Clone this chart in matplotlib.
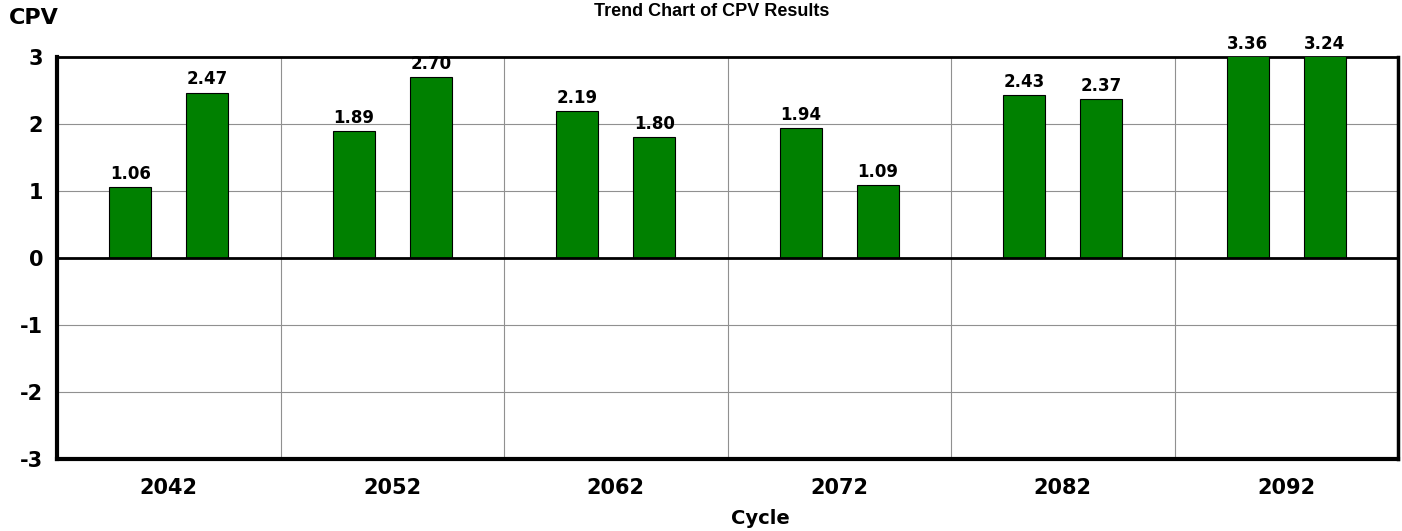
import numpy as np
import matplotlib.pyplot as plt

cycles = ['2042', '2052', '2062', '2072', '2082', '2092']
first_vals = [1.06, 1.89, 2.19, 1.94, 2.43, 3.36]
second_vals = [2.47, 2.70, 1.80, 1.09, 2.37, 3.24]

plt.rcParams['font.family'] = ['DejaVu Sans']

fig = plt.figure(figsize=(14.02, 5.31), dpi=100)
ax = fig.add_axes([57 / 1402, 1 - 459 / 531, 1341 / 1402, 402 / 531])

x = np.arange(len(cycles))
off = 0.172
w = 0.188
ymax = 3
for vals, sign in [(first_vals, -1), (second_vals, 1)]:
    bars = ax.bar(x + sign * off, vals, width=w, color='#008000',
                  edgecolor='black', linewidth=0.8, zorder=3)
    for xi, v in zip(x + sign * off, vals):
        ax.annotate(f'{v:.2f}', (xi, min(v, ymax)), xytext=(0, 3),
                    textcoords='offset points', ha='center', va='bottom',
                    fontsize=12, fontweight='bold', annotation_clip=False)

ax.set_xlim(-0.5, len(cycles) - 0.5)
ax.set_ylim(-3, 3)
ax.set_yticks(range(-3, 4))
ax.set_yticklabels([str(t) for t in range(-3, 4)], fontsize=15, fontweight='bold')
ax.set_xticks(x)
ax.set_xticklabels(cycles, fontsize=15, fontweight='bold')
ax.tick_params(length=0, pad=14)
ax.tick_params(axis='y', pad=10)

# grid
for b in np.arange(0.5, len(cycles) - 0.5):
    ax.axvline(b, color='#909090', linewidth=0.8, zorder=1)
for t in range(-2, 3):
    ax.axhline(t, color='#909090', linewidth=0.8, zorder=1)
ax.axhline(0, color='black', linewidth=2, zorder=4)

for side, lw in [('left', 3), ('bottom', 3), ('top', 2), ('right', 2.5)]:
    ax.spines[side].set_linewidth(lw)

fig.text(712 / 1402, 1 - 11 / 531, 'Trend Chart of CPV Results', ha='center', va='center',
         fontsize=13, fontweight='bold', family='Liberation Sans')
fig.text(9 / 1402, 1 - 18 / 531, 'CPV', ha='left', va='center',
         fontsize=16, fontweight='bold')
fig.text(760 / 1402, 1 - 518 / 531, 'Cycle', ha='center', va='center',
         fontsize=14, fontweight='bold')

fig.savefig('out.png', dpi=100)
